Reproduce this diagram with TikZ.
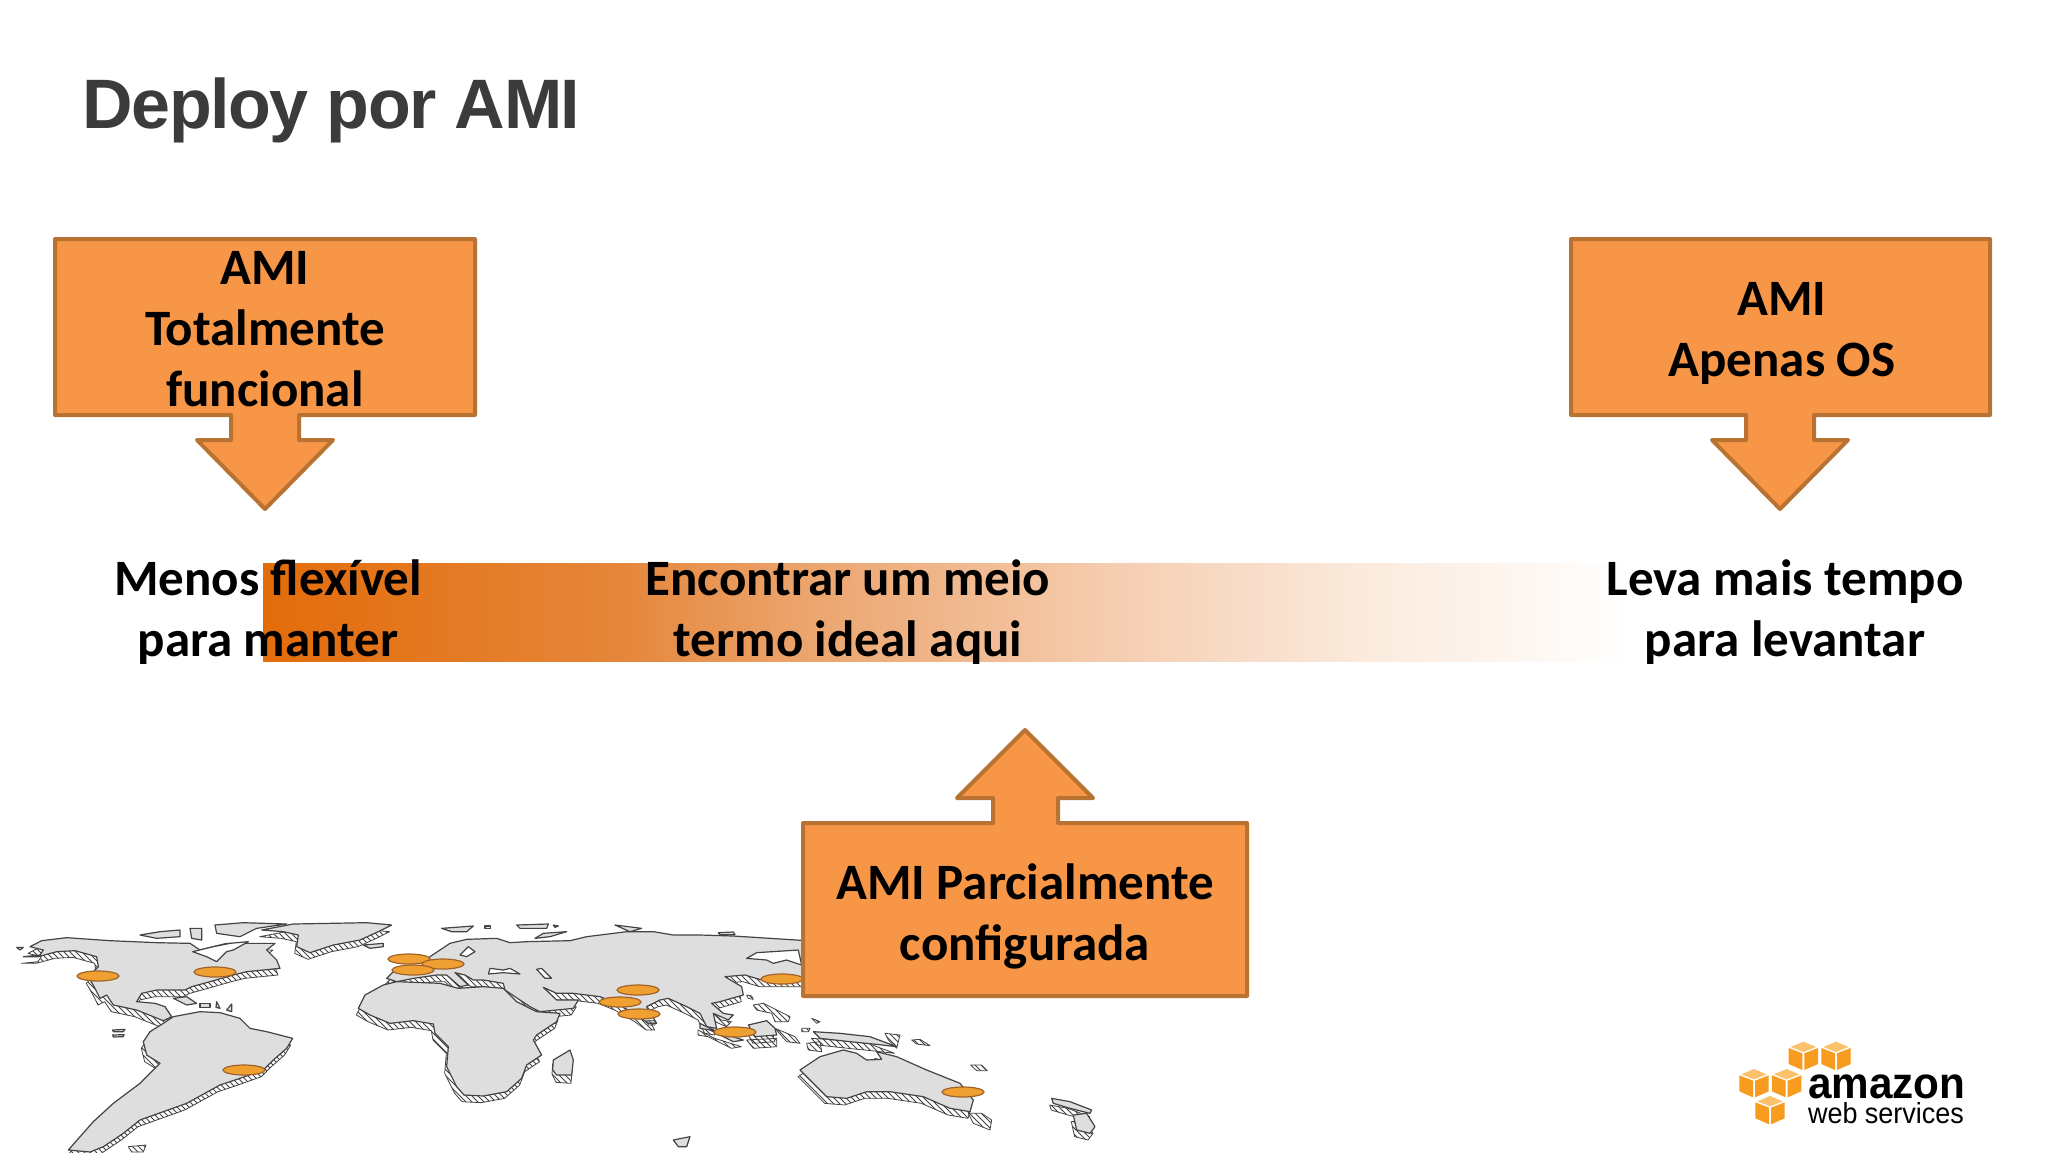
\documentclass[tikz,border=0pt]{standalone}
\usepackage{fontspec}
\setmainfont{Carlito}
\newfontfamily\titlefont[LetterSpace=-2]{Liberation Sans}
\newfontfamily\logofont{Liberation Sans}
\usetikzlibrary{patterns}
\definecolor{calloutfill}{HTML}{F79646}
\definecolor{calloutline}{HTML}{B87333}
\definecolor{barorange}{HTML}{E36C0A}
\definecolor{titlegrey}{HTML}{3B3B3B}
\definecolor{landgrey}{HTML}{DEDEDE}
\definecolor{landline}{HTML}{444444}
\definecolor{pinfill}{HTML}{F0A030}
\definecolor{pinline}{HTML}{A0622A}
\definecolor{cubeface}{HTML}{F79C1E}
\definecolor{cubetop}{HTML}{FBC26B}
\definecolor{barA}{HTML}{E5863A}
\definecolor{barB}{HTML}{EBA36B}
\definecolor{barC}{HTML}{F5CDB0}
\definecolor{barD}{HTML}{FBEBDE}
\pgfdeclarehorizontalshading{barshade}{100bp}{color(0bp)=(barorange); color(25bp)=(barorange); color(38bp)=(barA); color(44.5bp)=(barB); color(56bp)=(barC); color(65.5bp)=(barD); color(75bp)=(white); color(100bp)=(white)}
\tikzset{
  callout/.style={draw=calloutline,fill=calloutfill,line width=2pt,line join=round},
  labeltext/.style={font=\fontsize{25.5}{30.5}\selectfont\bfseries,align=center,text=black,inner sep=0pt},
  land/.style={draw=landline,fill=landgrey,line width=.6pt,line join=round},
  landshadow/.style={draw=landline,line width=.4pt,pattern=north west lines,pattern color=landline,line join=round},
  hole/.style={draw=landline,fill=white,line width=.6pt,line join=round},
  pin/.style={draw=pinline,fill=pinfill,line width=.6pt},
  cubetopface/.style={fill=cubetop},
  cubeside/.style={fill=cubeface}
}
\newcommand{\landmass}[1]{%
  \draw[landshadow,shift={(-6,20)}] #1;
  \draw[land] #1;}
\begin{document}
\begin{tikzpicture}[x=.5pt,y=-.5pt]
\useasboundingbox (0,0) rectangle (2048,1152);
\fill[white] (0,0) rectangle (2048,1152);
\begin{scope}
\clip (0,0) rectangle (2048,1152);
% Americas
\begin{scope}[shift={(0,900)},x=.5pt/3,y=-.5pt/3]
\landmass{(70,170)--(120,165)--(130,150)--(90,140)--(125,122)--(200,113)--(330,122)--(470,128)--(570,130)--(600,150)--(680,130)--(770,130)--(825,130)--(800,150)--(830,180)--(840,205)--(740,215)--(700,225)--(630,245)--(575,260)--(555,270)--(470,270)--(425,280)--(410,305)--(465,310)--(495,320)--(515,350)--(490,362)--(460,350)--(410,330)--(340,315)--(320,285)--(300,295)--(285,265)--(265,230)--(295,200)--(290,170)--(225,152)--(170,155)--(115,170)--cycle}
\draw[hole] (578,155)--(640,140)--(690,130)--(745,125)--(700,150)--(680,155)--(650,185)--(620,170)--cycle;
\landmass{(785,90)--(880,72)--(1100,68)--(1175,75)--(1135,95)--(1080,120)--(1000,135)--(930,158)--(890,140)--(895,105)--(850,95)--cycle}
\draw[land] (420,105)--(480,95)--(540,90)--(540,110)--(470,115)--cycle;
\draw[land] (570,85)--(605,85)--(605,120)--(575,115)--cycle;
\draw[land] (645,75)--(730,68)--(860,72)--(770,85)--(720,110)--(650,100)--cycle;
\draw[land] (1090,135)--(1150,130)--(1150,140)--(1110,145)--cycle;
\draw[land] (50,142)--(70,142)--(60,150)--cycle;
\draw[land] (520,295)--(560,290)--(590,310)--(560,315)--cycle;
\draw[land] (600,310)--(630,310)--(630,322)--(600,322)--cycle;
\draw[land] (650,305)--(660,325)--(648,322)--cycle;
\draw[land] (680,330)--(695,312)--(695,335)--cycle;
\draw[land] (338,390)--(375,388)--(370,395)--(340,395)--cycle;
\draw[land] (338,405)--(372,404)--(370,410)--(340,411)--cycle;
\landmass{(490,370)--(520,350)--(600,335)--(660,338)--(720,355)--(750,385)--(800,395)--(878,415)--(860,445)--(820,480)--(790,510)--(720,535)--(660,555)--(560,610)--(420,660)--(370,700)--(310,740)--(270,756)--(205,750)--(280,665)--(340,610)--(420,550)--(480,490)--(440,465)--(430,425)--(450,395)--cycle}
\draw[landshadow] (385,740)--(438,735)--(430,756)--(395,756)--cycle;
\end{scope}
% Africa and Eurasia
\begin{scope}[shift={(340,900)},x=.5pt/3,y=-.5pt/3]
\landmass{(140,235)--(160,215)--(250,200)--(270,170)--(330,130)--(380,118)--(470,115)--(510,128)--(560,125)--(690,122)--(740,110)--(860,95)--(940,95)--(1000,105)--(1080,105)--(1180,108)--(1400,122)--(1400,240)--(1265,240)--(1215,225)--(1155,230)--(1205,260)--(1210,285)--(1140,305)--(1115,310)--(1150,340)--(1180,345)--(1165,360)--(1120,340)--(1130,385)--(1100,380)--(1080,340)--(1040,320)--(985,295)--(960,300)--(920,320)--(950,370)--(925,370)--(890,345)--(830,310)--(780,290)--(700,280)--(650,280)--(610,262)--(650,300)--(715,300)--(700,325)--(600,335)--(570,320)--(495,270)--(490,250)--(430,240)--(400,240)--(375,225)--(345,218)--(385,255)--(360,260)--(320,225)--(290,225)--(220,235)--(170,245)--cycle}
\draw[hole] (445,222)--(450,205)--(490,210)--(510,205)--(540,222)--(490,218)--cycle;
\draw[hole] (590,208)--(605,205)--(635,235)--(615,235)--cycle;
\draw[hole] (360,165)--(385,140)--(405,155)--(380,170)--cycle;
\draw[hole] (1220,175)--(1250,158)--(1375,150)--(1385,195)--(1340,180)--(1300,190)--(1280,180)--cycle;
\landmass{(55,325)--(75,285)--(130,255)--(170,245)--(300,250)--(355,265)--(430,260)--(490,265)--(530,305)--(590,335)--(660,340)--(650,365)--(590,405)--(580,420)--(605,465)--(560,495)--(545,535)--(500,575)--(430,588)--(372,585)--(350,560)--(320,500)--(325,440)--(285,400)--(280,372)--(220,362)--(150,370)--(90,345)--cycle}
\draw[land] (305,85)--(400,78)--(380,95)--(335,95)--cycle;
\draw[land] (530,75)--(625,72)--(620,85)--(540,85)--cycle;
\draw[land] (585,115)--(610,100)--(680,95)--(630,110)--cycle;
\draw[land] (825,75)--(905,85)--(870,95)--cycle;
\draw[land] (435,78)--(452,78)--(452,85)--(435,85)--cycle;
\draw[land] (640,75)--(655,78)--(645,82)--cycle;
\draw[landshadow,shift={(-2,12)}] (640,480)--(690,450)--(700,480)--(695,538)--(650,535)--(638,510)--cycle;
\draw[land] (640,480)--(690,450)--(700,480)--(695,525)--(650,525)--(638,510)--cycle;
\draw[land] (1000,720)--(1050,710)--(1040,740)--(1015,740)--cycle;
\draw[landshadow] (920,362)--(945,362)--(945,375)--(925,375)--cycle;
\end{scope}
% Asia-Pacific islands
\begin{scope}[shift={(700,900)},x=.5pt/3,y=-.5pt/3]
\draw[land] (55,98)--(100,96)--(105,104)--(60,104)--cycle;
\landmass{(0,370)--(50,395)--(130,420)--(100,425)--(30,390)--(0,385)--cycle}
\landmass{(145,375)--(200,362)--(225,385)--(230,405)--(165,410)--cycle}
\draw[landshadow] (140,420)--(230,415)--(230,440)--(160,445)--cycle;
\draw[landshadow] (225,385)--(285,410)--(300,430)--(260,425)--cycle;
\draw[landshadow] (160,315)--(190,310)--(240,335)--(270,350)--(265,365)--(225,365)--(215,340)--(170,330)--cycle;
\draw[landshadow] (140,285)--(155,288)--(160,298)--(145,295)--cycle;
\draw[landshadow] (335,355)--(360,365)--(350,370)--cycle;
\draw[landshadow] (305,385)--(330,385)--(325,395)--(305,395)--cycle;
\draw[landshadow] (320,430)--(360,425)--(365,455)--(325,450)--cycle;
\landmass{(340,395)--(420,400)--(510,410)--(590,440)--(520,432)--(450,425)--(360,415)--cycle}
\draw[landshadow] (555,400)--(600,405)--(590,445)--(565,420)--cycle;
\draw[landshadow] (635,420)--(660,418)--(690,437)--(650,432)--cycle;
\draw[landshadow] (812,495)--(845,495)--(862,512)--(830,512)--cycle;
\landmass{(300,510)--(360,470)--(430,450)--(470,460)--(500,480)--(545,478)--(530,455)--(590,470)--(680,510)--(780,550)--(820,600)--(810,635)--(750,625)--(670,590)--(570,575)--(500,575)--(440,595)--(380,590)--(340,550)--cycle}
\draw[landshadow] (805,640)--(845,640)--(875,660)--(870,690)--(820,670)--cycle;
\landmass{(1055,595)--(1110,605)--(1175,630)--(1170,640)--(1110,625)--(1060,610)--cycle}
\landmass{(1120,645)--(1160,640)--(1185,680)--(1170,700)--(1130,690)--cycle}
\end{scope}
\foreach \px/\py in {98/976,215/972,244/1070,409/959,443/964,413/970,638/990,620/1002,639/1014,735/1032,782/979,963/1092}
  \draw[pin] (\px,\py) ellipse [x radius=21,y radius=5];
\end{scope}
\shade[shading=barshade] (263,563) rectangle (1632,661);
\node[anchor=base west,inner sep=0pt,text=titlegrey,font=\fontsize{35}{40}\selectfont\bfseries\titlefont] (title) at (82,128) {Deploy por AMI};
\draw[callout] (55,239)--(475,239)--(475,415)--(299,415)--(299,440)--(333,440)--(265,509)--(197,440)--(231,440)--(231,415)--(55,415)--cycle;
\draw[callout] (1571,239)--(1990,239)--(1990,415)--(1814,415)--(1814,440)--(1848,440)--(1780,509)--(1712,440)--(1746,440)--(1746,415)--(1571,415)--cycle;
\draw[callout] (803,823)--(993,823)--(993,798)--(957,798)--(1025,730)--(1093,798)--(1058,798)--(1058,823)--(1247,823)--(1247,996)--(803,996)--cycle;
\node[labeltext] (full) at (265,329) {AMI\\Totalmente\\funcional};
\node[labeltext] (osonly) at (1782,333) {AMI\\Apenas OS};
\node[labeltext] (partial) at (1025,916) {AMI Parcialmente\\configurada};
\node[labeltext] (flex) at (268,612) {Menos flexível\\para manter};
\node[labeltext] (ideal) at (848,612) {Encontrar um meio\\termo ideal aqui};
\node[labeltext] (time) at (1785,612) {Leva mais tempo\\para levantar};
\begin{scope}[shift={(1700,1020)},x=.5pt/3,y=-.5pt/3]
\foreach \cx/\cy in {310/65,408/65,162/147,260/147,210/228}{
  \fill[cubetopface] (\cx,\cy)--(\cx+38,\cy+16)--(\cx,\cy+31)--(\cx-38,\cy+16)--cycle;
  \fill[cubeside] (\cx-44,\cy+19)--(\cx-3,\cy+35)--(\cx-3,\cy+85)--(\cx-44,\cy+67)--cycle;
  \fill[cubeside] (\cx+3,\cy+35)--(\cx+44,\cy+19)--(\cx+44,\cy+67)--(\cx+3,\cy+85)--cycle;
}
\node[anchor=base west,inner sep=0pt,xscale=.96,font=\fontsize{22}{26}\selectfont\bfseries\logofont] (amazon) at (323,235) {amazon};
\node[anchor=base west,inner sep=0pt,xscale=.93,font=\fontsize{14.5}{17}\selectfont\logofont] (aws) at (323,310) {web services};
\end{scope}
\end{tikzpicture}
\end{document}
